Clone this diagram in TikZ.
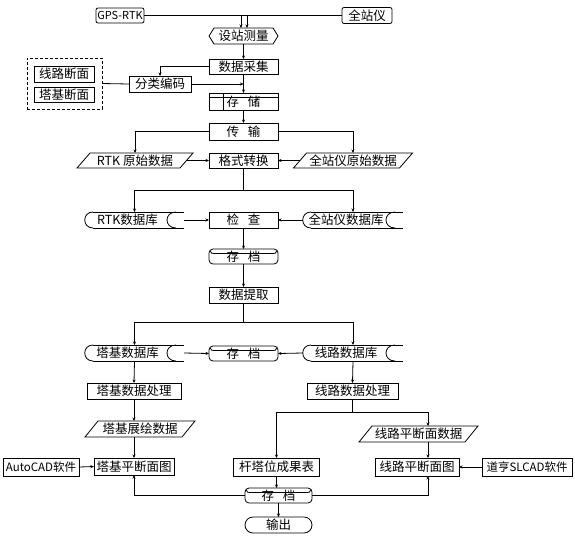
\documentclass[tikz,border=0pt]{standalone}
\usepackage{fontspec}
\setmainfont{Noto Sans CJK SC}
\usetikzlibrary{arrows.meta}
\begin{document}
\begin{tikzpicture}[x=1pt,y=-1pt,line width=0.8pt,
  every node/.style={font=\fontsize{12.5}{14}\selectfont,inner sep=0pt,outer sep=0pt},
  bw/.style={minimum width=#1pt},
  bh/.style={minimum height=#1pt},
  rect/.style={draw},
  rnd/.style={draw,rounded corners=2pt},
  cyl/.style={draw,rounded corners=4pt},
  term/.style={draw,rounded corners=8pt},
  sdb/.style={execute at end node={\hspace*{14pt}}},
  grpbox/.style={draw,dash pattern=on 3pt off 2pt},
  small/.style={font=\fontsize{11.5}{13}\selectfont},
  arr/.style={-{Stealth[length=3.5pt,width=3pt]}}]
\useasboundingbox (0,0) rectangle (575,536);
\fill[white] (0,0) rectangle (575,536);
% nodes
\node[rnd,bw=48,bh=15,font=\fontsize{11}{13}\selectfont] (gps) at (120,15.5) {GPS-RTK};
\node[rnd,bw=50,bh=16] (qzy) at (367,15.5) {全站仪};
\node[bw=69,bh=16] (szcl) at (243.5,36) {设站测量};
\node[rect,bw=69,bh=15] (sjcj) at (243.5,66.5) {数据采集};
\node[rect,bw=62,bh=16] (flbm) at (160,84) {分类编码};
\node[grpbox,bw=75,bh=51] (grp) at (64.5,83.5) {};
\node[rect,bw=60,bh=16] (xldm) at (64,74) {线路断面};
\node[rect,bw=60,bh=15] (tjdm) at (64,94.5) {塔基断面};
\node[rect,bw=69,bh=17] (cc) at (243.5,101.5) {\raisebox{-2pt}{存\hspace{0.7em}储}};
\node[rect,bw=69,bh=17] (cs) at (243.5,131.5) {传\hspace{0.7em}输};
\node[bw=103,bh=15] (rtkys) at (135,160.5) {RTK 原始数据};
\node[rect,bw=69,bh=15] (gsz) at (243.5,160.5) {格式转换};
\node[bw=106,bh=15] (qzyys) at (353,160.5) {全站仪原始数据};
\node[sdb,bw=99,bh=16] (rtkdb) at (134.5,220) {RTK数据库};
\node[rect,bw=69,bh=16] (jc) at (243.5,220) {检\hspace{0.7em}查};
\node[sdb,bw=100,bh=16] (qzydb) at (353,220) {全站仪数据库};
\node[cyl,bw=69,bh=15] (cd1) at (243.5,256.5) {\raisebox{-1pt}{存\hspace{0.7em}档}};
\node[rect,bw=69,bh=16] (sjtq) at (243.5,295) {数据提取};
\node[sdb,bw=99,bh=16] (tjdb) at (134.5,353) {塔基数据库};
\node[cyl,bw=69,bh=15] (cd2) at (243.5,353.5) {\raisebox{-1pt}{存\hspace{0.7em}档}};
\node[sdb,bw=100,bh=16] (xldb) at (353,353) {线路数据库};
\node[rect,bw=94,bh=16] (tjcl) at (134,391) {塔基数据处理};
\node[rect,bw=91,bh=16] (xlcl) at (352.5,391) {线路数据处理};
\node[bw=97,bh=16] (tjzh) at (140,429) {塔基展绘数据};
\node[bw=106,bh=16] (xlpdmsj) at (418.5,434) {线路平断面数据};
\node[rect,small,bw=76,bh=18] (autocad) at (41,467) {AutoCAD软件};
\node[rect,bw=80,bh=17] (tjpdmt) at (134,466.5) {塔基平断面图};
\node[rect,bw=86,bh=18] (gtwcgb) at (276.5,467) {杆塔位成果表};
\node[rect,bw=84,bh=18] (xlpdmt) at (417,467) {线路平断面图};
\node[rect,small,bw=90,bh=18] (dhslcad) at (527,467) {道亨SLCAD软件};
\node[cyl,bw=67,bh=15] (cd3) at (278.5,495.5) {\raisebox{-1pt}{存\hspace{0.7em}档}};
\node[term,bw=67,bh=16] (sc) at (278.5,525) {输出};
% custom outlines
\draw ([xshift=5pt]szcl.north west) -- ([xshift=-5pt]szcl.north east) -- (szcl.east)
  -- ([xshift=-5pt]szcl.south east) -- ([xshift=5pt]szcl.south west) -- (szcl.west) -- cycle;
\foreach \n in {rtkys,qzyys,tjzh,xlpdmsj}{
  \draw ([xshift=-6.5pt]\n.south west) -- ([xshift=6.5pt]\n.north west)
    -- ([xshift=6.5pt]\n.north east) -- ([xshift=-6.5pt]\n.south east) -- cycle;}
\foreach \n in {rtkdb,qzydb,tjdb,xldb}{
  \draw ([xshift=8pt]\n.north west) -- (\n.north east);
  \draw ([xshift=8pt]\n.south west) -- (\n.south east);
  \draw ([xshift=8pt]\n.north west) .. controls ([xshift=-3pt]\n.north west) and ([xshift=-3pt]\n.south west) .. ([xshift=8pt]\n.south west);
  \draw ([xshift=-8pt]\n.north east) .. controls ([xshift=-20pt]\n.north east) and ([xshift=-20pt]\n.south east) .. ([xshift=-8pt]\n.south east);}
\foreach \n in {cd1,cd2,cd3}{
  \draw ([xshift=1pt,yshift=-1.5pt]\n.north west) .. controls ([xshift=2pt,yshift=-4.5pt]\n.north west) .. ([xshift=8pt,yshift=-4.5pt]\n.north west)
    -- ([xshift=-8pt,yshift=-4.5pt]\n.north east) .. controls ([xshift=-2pt,yshift=-4.5pt]\n.north east) .. ([xshift=-1pt,yshift=-1.5pt]\n.north east);}
\draw ([yshift=-4pt]cc.north west) -- ([yshift=-4pt]cc.north east);
\draw ([xshift=14pt]cc.north west) -- ([xshift=14pt]cc.south west);
% helper coordinates
\coordinate (y190) at (0,190);
\coordinate (y322) at (0,322);
\coordinate (y412) at (0,412);
\coordinate (c428) at (428,412);
\coordinate (j2) at (sjcj.south |- flbm.east);
\coordinate (j3) at (gsz.south |- y190);
\coordinate (j4) at (sjtq.south |- y322);
\coordinate (j5) at (xlcl.south |- y412);
% connectors
\draw[arr] (gps.east) -| ([xshift=3.5pt]szcl.north);
\draw[arr] (qzy.west) -| ([xshift=-2.5pt]szcl.north);
\draw[arr] (szcl.south) -- (sjcj.north);
\draw[arr] (sjcj.west) -| (flbm.north);
\draw (grp.east) -- (flbm.west);
\draw[arr] (flbm.east) -- (j2);
\draw[arr] (sjcj.south) -- (cc.north);
\draw[arr] (cc.south) -- (cs.north);
\draw[arr] (cs.west) -| (rtkys.north);
\draw[arr] (cs.east) -| (qzyys.north);
\draw[arr] (rtkys.east) -- (gsz.west);
\draw[arr] (qzyys.west) -- (gsz.east);
\draw (gsz.south) -- (j3);
\draw[arr] (j3) -| (rtkdb.north);
\draw[arr] (j3) -| (qzydb.north);
\draw[arr] (rtkdb.east) -- (jc.west);
\draw[arr] (qzydb.west) -- (jc.east);
\draw[arr] (jc.south) -- (cd1.north);
\draw[arr] (cd1.south) -- (sjtq.north);
\draw (sjtq.south) -- (j4);
\draw[arr] (j4) -| (tjdb.north);
\draw[arr] (j4) -| (xldb.north);
\draw[arr] (tjdb.east) -- (cd2.west);
\draw[arr] (xldb.west) -- (cd2.east);
\draw[arr] (tjdb.south) -- (tjcl.north);
\draw[arr] (tjcl.south) -- (tjcl.south |- tjzh.north);
\draw[arr] (tjcl.south |- tjzh.south) -- (tjpdmt.north);
\draw[arr] (autocad.east) -- (tjpdmt.west);
\draw[arr] (cd3.west) -| (tjpdmt.south);
\draw[arr] (xldb.south) -- (xlcl.north);
\draw (xlcl.south) -- (j5);
\draw[arr] (j5) -| (gtwcgb.north);
\draw[arr] (j5) -- (c428) -- (c428 |- xlpdmsj.north);
\draw[arr] (c428 |- xlpdmsj.south) -- (c428 |- xlpdmt.north);
\draw[arr] (dhslcad.west) -- (xlpdmt.east);
\draw[arr] (cd3.east) -| (c428 |- xlpdmt.south);
\draw[arr] (gtwcgb.south) -- (gtwcgb.south |- cd3.north);
\draw[arr] (cd3.south) -- (sc.north);
\end{tikzpicture}
\end{document}
